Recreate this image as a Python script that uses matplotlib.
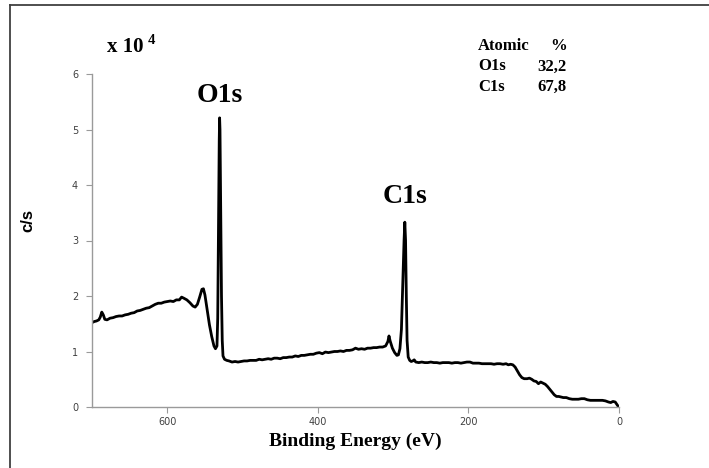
import numpy as np
import matplotlib
matplotlib.use("Agg")
import matplotlib.pyplot as plt
from matplotlib.lines import Line2D

# XPS survey spectrum, counts in units of 1e4 c/s
energy = [700, 697, 694, 691, 689, 687, 685, 683, 680, 676, 672, 668, 664, 660, 656, 652,
          648, 644, 640, 636, 632, 628, 624, 620, 616, 612, 608, 604, 600, 596, 592, 588,
          584, 581, 578, 574, 570, 566, 563, 560, 557, 554, 552, 550, 547, 544, 541, 538,
          536, 534, 533, 532, 531, 530.5, 530, 529, 528, 527, 526, 524, 521, 518, 514, 510,
          506, 502, 498, 494, 490, 486, 482, 478, 474, 470, 466, 462, 458, 454, 450, 446,
          442, 438, 434, 430, 426, 422, 418, 414, 410, 406, 402, 398, 394, 390, 386, 382,
          378, 374, 370, 366, 362, 358, 354, 350, 346, 342, 338, 334, 330, 326, 322, 318,
          314, 310, 307, 305.5, 304, 301, 298, 295, 293, 291, 289, 287, 285.5, 284.5, 283.5,
          282.5, 281.5, 280, 278, 276, 274, 272, 270, 266, 262, 258, 254, 250, 246, 242, 238,
          234, 230, 226, 222, 218, 214, 210, 206, 202, 198, 194, 190, 186, 182, 178, 174,
          170, 166, 162, 158, 154, 150, 147, 144, 141, 138, 135, 132, 129, 126, 122, 119,
          116, 113, 110, 107, 104, 101, 98, 95, 92, 89, 86, 83, 80, 77, 74, 70, 66, 62, 58,
          54, 50, 46, 42, 38, 34, 30, 26, 22, 18, 14, 11, 8, 5, 3, 1]
counts = [1.52, 1.54, 1.55, 1.57, 1.62, 1.71, 1.66, 1.58, 1.57, 1.60, 1.61, 1.63, 1.64, 1.64, 1.66, 1.67,
          1.69, 1.70, 1.73, 1.74, 1.76, 1.78, 1.79, 1.82, 1.85, 1.87, 1.87, 1.89, 1.90, 1.91, 1.90, 1.93,
          1.93, 1.98, 1.96, 1.93, 1.88, 1.82, 1.80, 1.85, 1.98, 2.12, 2.13, 2.02, 1.75, 1.48, 1.27, 1.10,
          1.05, 1.10, 1.6, 3.2, 4.8, 5.21, 5.0, 3.6, 2.0, 1.2, 0.92, 0.86, 0.84, 0.83, 0.81, 0.82,
          0.81, 0.82, 0.83, 0.83, 0.84, 0.84, 0.84, 0.86, 0.85, 0.86, 0.87, 0.86, 0.88, 0.88, 0.87, 0.89,
          0.89, 0.90, 0.90, 0.92, 0.91, 0.93, 0.93, 0.94, 0.95, 0.95, 0.97, 0.98, 0.96, 0.99, 0.98, 0.99,
          1.00, 1.00, 1.01, 1.00, 1.02, 1.02, 1.03, 1.06, 1.04, 1.05, 1.04, 1.06, 1.06, 1.07, 1.07, 1.08,
          1.08, 1.10, 1.18, 1.28, 1.19, 1.06, 0.98, 0.93, 0.94, 1.05, 1.4, 2.3, 3.0, 3.33, 3.0,
          2.0, 1.2, 0.90, 0.84, 0.82, 0.83, 0.85, 0.81, 0.80, 0.81, 0.80, 0.80, 0.81, 0.80, 0.80, 0.79,
          0.80, 0.80, 0.80, 0.79, 0.80, 0.80, 0.79, 0.80, 0.81, 0.81, 0.79, 0.79, 0.79, 0.78, 0.78, 0.78,
          0.78, 0.77, 0.78, 0.78, 0.77, 0.78, 0.76, 0.77, 0.76, 0.72, 0.65, 0.58, 0.53, 0.51, 0.51, 0.52,
          0.50, 0.47, 0.46, 0.42, 0.45, 0.43, 0.41, 0.37, 0.32, 0.27, 0.22, 0.19, 0.19, 0.18, 0.17, 0.17, 0.15, 0.14, 0.14,
          0.14, 0.15, 0.15, 0.13, 0.12, 0.12, 0.12, 0.12, 0.12, 0.11, 0.09, 0.08, 0.10, 0.09, 0.05, 0.01]

x_ticks = [600, 400, 200, 0]
y_ticks = [0, 1, 2, 3, 4, 5, 6]
peak_labels = ["O1s", "C1s"]
peak_pos = [(530, 5.62), (284, 3.80)]
table_rows = [("Atomic", "%"), ("O1s", "32,2"), ("C1s", "67,8")]

W, H = 709, 468
fig = plt.figure(figsize=(W / 100, H / 100), dpi=100)
ax = fig.add_axes([92 / W, 1 - 407 / H, (619 - 92) / W, (407 - 74) / H])

ax.plot(energy, counts, color="black", lw=2.0, solid_joinstyle="round")
ax.set_xlim(700, 0)
ax.set_ylim(0, 6)
ax.set_xticks(x_ticks)
ax.set_yticks(y_ticks)
for s in ["top", "right"]:
    ax.spines[s].set_visible(False)
for s in ["left", "bottom"]:
    ax.spines[s].set_color("#9a9a9a")
    ax.spines[s].set_linewidth(1.0)
ax.tick_params(axis="both", length=4, width=0.8, color="#9a9a9a", labelsize=7,
               labelcolor="#404040")
ax.tick_params(axis="y", pad=6)
ax.tick_params(axis="x", pad=3)

serif = "Liberation Serif"
ax.set_xlabel("Binding Energy (eV)", family=serif, weight="bold", fontsize=14, labelpad=4)
fig.text(28 / W, 1 - 221 / H, "c/s", family="Liberation Sans", weight="bold", fontsize=12,
         rotation=90, ha="center", va="center")

for lab, (xe, yv) in zip(peak_labels, peak_pos):
    ax.text(xe, yv, lab, family=serif, weight="bold", fontsize=20, ha="center", va="center")

fig.text(107 / W, 1 - 52 / H, "x 10", family=serif, weight="bold", fontsize=15, ha="left", va="baseline")
fig.text(148 / W, 1 - 44 / H, "4", family=serif, weight="bold", fontsize=10.5, ha="left", va="baseline")

for i, (a, b) in enumerate(table_rows):
    yy = 1 - (50 + 20.5 * i) / H
    fig.text(478 / W, yy, a, family=serif, weight="bold", fontsize=12, ha="left", va="baseline")
    fig.text(567 / W, yy, b, family=serif, weight="bold", fontsize=12, ha="right", va="baseline")

# outer frame (left and top edge)
fig.add_artist(Line2D([10 / W, 10 / W], [0, 1 - 5 / H], transform=fig.transFigure, color="#404040", lw=1.3))
fig.add_artist(Line2D([10 / W, 1], [1 - 5 / H, 1 - 5 / H], transform=fig.transFigure, color="#404040", lw=1.3))

fig.savefig("out.png", dpi=100)
